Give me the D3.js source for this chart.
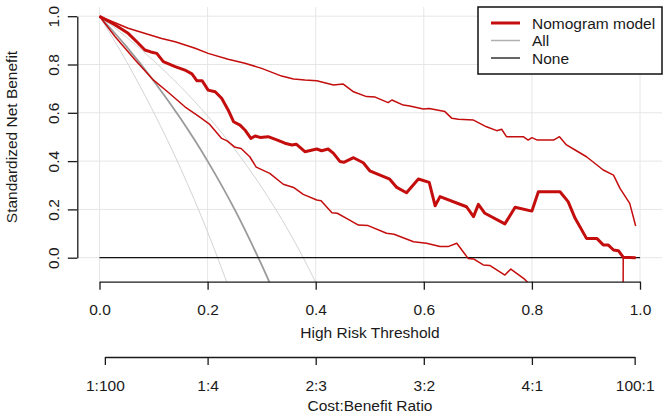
<!DOCTYPE html>
<html>
<head>
<meta charset="utf-8">
<script src="https://cdn.jsdelivr.net/npm/d3@7"></script>
<style>
  body { margin: 0; background: #fff; }
  text { font-family: "Liberation Sans", Arial, sans-serif; fill: #1a1a1a; }
</style>
</head>
<body>
<div id="chart"></div>
<script>
// thresholds and standardized net benefit
var nomoT  = [0, 0.029, 0.053, 0.069, 0.084, 0.095, 0.106, 0.118, 0.140, 0.158, 0.171, 0.180, 0.190, 0.201, 0.214, 0.226, 0.238, 0.248, 0.260, 0.269, 0.280, 0.288, 0.297, 0.312, 0.328, 0.343, 0.356, 0.364, 0.380, 0.402, 0.411, 0.423, 0.433, 0.445, 0.452, 0.470, 0.488, 0.500, 0.537, 0.550, 0.568, 0.590, 0.610, 0.621, 0.630, 0.679, 0.692, 0.701, 0.713, 0.750, 0.769, 0.800, 0.812, 0.852, 0.867, 0.880, 0.901, 0.920, 0.932, 0.941, 0.951, 0.960, 0.969, 0.992];
var nomoNB = [1.0, 0.964, 0.929, 0.894, 0.860, 0.852, 0.846, 0.812, 0.791, 0.777, 0.761, 0.733, 0.733, 0.694, 0.687, 0.660, 0.612, 0.563, 0.549, 0.529, 0.494, 0.504, 0.498, 0.501, 0.488, 0.474, 0.467, 0.470, 0.439, 0.450, 0.443, 0.450, 0.432, 0.398, 0.395, 0.414, 0.393, 0.360, 0.325, 0.291, 0.269, 0.326, 0.312, 0.215, 0.253, 0.211, 0.170, 0.221, 0.184, 0.140, 0.209, 0.193, 0.273, 0.273, 0.232, 0.163, 0.080, 0.080, 0.053, 0.053, 0.032, 0.029, 0.002, 0.0];

var upperT  = [0, 0.053, 0.115, 0.140, 0.177, 0.201, 0.238, 0.269, 0.300, 0.337, 0.359, 0.380, 0.402, 0.433, 0.451, 0.470, 0.494, 0.510, 0.534, 0.541, 0.562, 0.574, 0.599, 0.610, 0.639, 0.652, 0.664, 0.692, 0.716, 0.735, 0.744, 0.753, 0.784, 0.793, 0.800, 0.810, 0.840, 0.851, 0.864, 0.880, 0.901, 0.932, 0.951, 0.963, 0.981, 0.992];
var upperNB = [1.0, 0.950, 0.908, 0.894, 0.867, 0.846, 0.822, 0.805, 0.784, 0.752, 0.740, 0.736, 0.733, 0.715, 0.719, 0.687, 0.667, 0.665, 0.642, 0.653, 0.632, 0.628, 0.616, 0.618, 0.605, 0.577, 0.573, 0.570, 0.542, 0.526, 0.532, 0.501, 0.501, 0.487, 0.497, 0.487, 0.487, 0.501, 0.467, 0.446, 0.418, 0.363, 0.342, 0.287, 0.225, 0.131];

var lowerT  = [0, 0.029, 0.066, 0.100, 0.127, 0.158, 0.183, 0.204, 0.226, 0.236, 0.251, 0.262, 0.278, 0.290, 0.315, 0.340, 0.359, 0.377, 0.402, 0.410, 0.430, 0.440, 0.457, 0.479, 0.497, 0.531, 0.545, 0.581, 0.605, 0.630, 0.645, 0.661, 0.682, 0.692, 0.710, 0.722, 0.750, 0.761, 0.787, 0.800, 0.968, 0.969, 0.992];
var lowerNB = [1.0, 0.915, 0.819, 0.735, 0.685, 0.625, 0.586, 0.552, 0.494, 0.484, 0.457, 0.452, 0.418, 0.375, 0.349, 0.304, 0.291, 0.262, 0.239, 0.236, 0.186, 0.184, 0.163, 0.135, 0.133, 0.101, 0.097, 0.066, 0.060, 0.046, 0.046, 0.060, -0.003, -0.005, -0.030, -0.032, -0.072, -0.047, -0.090, -0.12, -0.5, 0.0, 0.0];

var allT  = [0, 0.05, 0.1, 0.15, 0.2, 0.25, 0.3, 0.33];
var allNB = [1, 0.874, 0.733, 0.576, 0.40, 0.20, -0.03, -0.18];
var allLoT  = [0, 0.05, 0.1, 0.15, 0.2, 0.25];
var allLoNB = [1, 0.812, 0.603, 0.370, 0.107, -0.19];
var allHiT  = [0, 0.05, 0.1, 0.15, 0.2, 0.25, 0.3, 0.35, 0.4, 0.42];
var allHiNB = [1, 0.913, 0.816, 0.708, 0.587, 0.449, 0.292, 0.110, -0.102, -0.197];

var noneT  = [0, 1];
var noneNB = [0, 0];

var xTicks = [0, 0.2, 0.4, 0.6, 0.8, 1.0];
var yTicks = [0, 0.2, 0.4, 0.6, 0.8, 1.0];
var costRatios = [[1, 100], [1, 4], [2, 3], [3, 2], [4, 1], [100, 1]];

var legendLabels = ["Nomogram model", "All", "None"];

var svgWidth = 669;
var svgHeight = 418;

var svg = d3.select("#chart")
  .append("svg")
  .attr("width", svgWidth)
  .attr("height", svgHeight);

var x = d3.scaleLinear().domain([0, 1]).range([99.5, 640]);
var y = d3.scaleLinear().domain([0, 1]).range([257.7, 16.2]);

var plotBox = { left: 78, right: 662, top: 7, bottom: 282 };

svg.append("clipPath")
  .attr("id", "plotClip")
  .append("rect")
  .attr("x", plotBox.left)
  .attr("y", plotBox.top)
  .attr("width", plotBox.right - plotBox.left)
  .attr("height", plotBox.bottom - plotBox.top);

// grid
var grid = svg.append("g").attr("stroke", "#e6e6e6").attr("stroke-width", 1);
grid.selectAll(".vg").data(xTicks).enter().append("line")
  .attr("x1", d => x(d)).attr("x2", d => x(d))
  .attr("y1", plotBox.top).attr("y2", plotBox.bottom);
grid.selectAll(".hg").data(yTicks).enter().append("line")
  .attr("x1", plotBox.left).attr("x2", plotBox.right)
  .attr("y1", d => y(d)).attr("y2", d => y(d));

var plot = svg.append("g").attr("clip-path", "url(#plotClip)");

function pairs(ts, vs) {
  return ts.map((t, i) => [t, vs[i]]);
}

var straight = d3.line().x(d => x(d[0])).y(d => y(d[1]));
var smooth = d3.line().x(d => x(d[0])).y(d => y(d[1])).curve(d3.curveMonotoneX);

function drawLine(data, gen, color, width) {
  plot.append("path")
    .datum(data)
    .attr("d", gen)
    .attr("fill", "none")
    .attr("stroke", color)
    .attr("stroke-width", width)
    .attr("stroke-linejoin", "round");
}

// treat all, with its confidence band
drawLine(pairs(allLoT, allLoNB), smooth, "#d4d4d4", 1);
drawLine(pairs(allHiT, allHiNB), smooth, "#d4d4d4", 1);
drawLine(pairs(allT, allNB), smooth, "#9a9a9a", 1.8);

// treat none
drawLine(pairs(noneT, noneNB), straight, "#111", 1.3);

// nomogram model
drawLine(pairs(lowerT, lowerNB), straight, "#c40d0d", 1.5);
drawLine(pairs(upperT, upperNB), straight, "#c40d0d", 1.5);
drawLine(pairs(nomoT, nomoNB), straight, "#c40d0d", 3);

// axes
var fontSize = "15.5px";

var bottomAxis = d3.axisBottom(x)
  .tickValues(xTicks)
  .tickFormat(d3.format(".1f"))
  .tickSize(8)
  .tickSizeOuter(0)
  .tickPadding(14.5);

var xAxisG = svg.append("g")
  .attr("transform", "translate(0, 281.7)")
  .call(bottomAxis);

var costT = costRatios.map(r => r[0] / (r[0] + r[1]));
var costScale = d3.scaleLinear()
  .domain([costT[0], costT[costT.length - 1]])
  .range([x(costT[0]), x(costT[costT.length - 1])]);

var costAxis = d3.axisBottom(costScale)
  .tickValues(costT)
  .tickFormat((d, i) => costRatios[i][0] + ":" + costRatios[i][1])
  .tickSize(8)
  .tickSizeOuter(0)
  .tickPadding(15);

var costAxisG = svg.append("g")
  .attr("transform", "translate(0, 357)")
  .call(costAxis);

var leftAxis = d3.axisLeft(y)
  .tickValues(yTicks)
  .tickFormat(d3.format(".1f"))
  .tickSize(9.5)
  .tickSizeOuter(0);

var yAxisG = svg.append("g")
  .attr("transform", "translate(77.3, 0)")
  .call(leftAxis);

yAxisG.selectAll(".tick text")
  .attr("x", null)
  .attr("dy", null)
  .attr("text-anchor", "middle")
  .attr("transform", "translate(-18, 0) rotate(-90)");

[xAxisG, costAxisG, yAxisG].forEach(function(g) {
  g.selectAll("path, line").attr("stroke", "#1a1a1a").attr("stroke-width", 1.3);
  g.selectAll("text")
    .style("font-family", '"Liberation Sans", Arial, sans-serif')
    .style("font-size", fontSize)
    .attr("fill", "#1a1a1a");
});

// axis titles
svg.append("text")
  .attr("x", 370).attr("y", 338)
  .attr("text-anchor", "middle")
  .style("font-size", fontSize)
  .text("High Risk Threshold");

svg.append("text")
  .attr("x", 370).attr("y", 411)
  .attr("text-anchor", "middle")
  .style("font-size", fontSize)
  .text("Cost:Benefit Ratio");

svg.append("text")
  .attr("transform", "translate(17, 137) rotate(-90)")
  .attr("text-anchor", "middle")
  .style("font-size", fontSize)
  .text("Standardized Net Benefit");

// legend
var legend = svg.append("g");
legend.append("rect")
  .attr("x", 478).attr("y", 7)
  .attr("width", 184).attr("height", 67)
  .attr("fill", "#fff")
  .attr("stroke", "#111")
  .attr("stroke-width", 1.5);

var legendStyle = [
  { color: "#c40d0d", width: 3 },
  { color: "#b0b0b0", width: 1.5 },
  { color: "#111", width: 1.3 }
];

legendLabels.forEach(function(label, i) {
  var ly = 23 + i * 17.5;
  legend.append("line")
    .attr("x1", 491).attr("x2", 520)
    .attr("y1", ly).attr("y2", ly)
    .attr("stroke", legendStyle[i].color)
    .attr("stroke-width", legendStyle[i].width);
  legend.append("text")
    .attr("x", 532).attr("y", ly)
    .attr("dy", "0.36em")
    .style("font-size", fontSize)
    .text(label);
});
</script>
</body>
</html>
